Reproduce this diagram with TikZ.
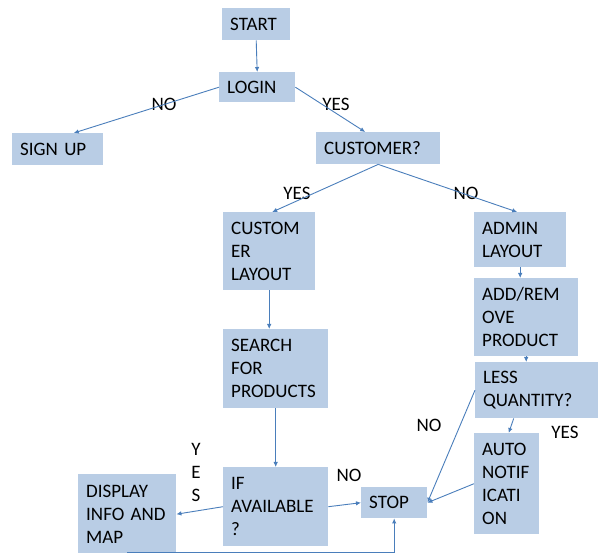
\documentclass[tikz,border=0pt]{standalone}
\usepackage{fontspec}
\setmainfont{Carlito}
\usepackage{tikz}
\usetikzlibrary{arrows.meta}
\definecolor{fcFill}{HTML}{B9CDE5}
\definecolor{fcLine}{HTML}{4A7EBB}

\begin{document}
\begin{tikzpicture}[x=1pt,y=-1pt,font=\fontsize{19}{23}\selectfont,
  b/.style={fill=fcFill,anchor=north west,align=left,inner xsep=8pt,inner ysep=0pt},
  a/.style={-{Latex[length=5pt,width=4.5pt]},fcLine,line width=0.9pt}]
\useasboundingbox (0,0) rectangle (598,553);
\node[b,text width=52pt,minimum height=32pt] (start) at (222,8) {START};
\node[b,text width=60pt,minimum height=30pt] (login) at (219,72) {LOGIN};
\node[b,text width=75pt,minimum height=32pt] (signup) at (12,133) {SIGN UP};
\node[b,text width=108pt,minimum height=32pt] (cust) at (316,132) {CUSTOMER?};
\node[b,text width=76pt,minimum height=78pt] (custlay) at (223,212) {CUSTOM\\ER\\LAYOUT};
\node[b,text width=76pt,minimum height=55pt] (admin) at (474,212) {ADMIN\\LAYOUT};
\node[b,text width=88pt,minimum height=78pt] (addrem) at (474,278) {ADD/REM\\OVE\\PRODUCT};
\node[b,text width=107pt,minimum height=56pt] (less) at (475,362) {LESS\\QUANTITY?};
\node[b,text width=49pt,minimum height=101pt] (auto) at (474,433) {AUTO\\NOTIF\\ICATI\\ON};
\node[b,text width=89pt,minimum height=79pt] (search) at (223,329) {SEARCH\\FOR\\PRODUCTS};
\node[b,text width=89pt,minimum height=79pt] (ifav) at (223,467) {IF\\AVAILABLE\\?};
\node[b,text width=50pt,minimum height=31pt] (stop) at (361,487) {STOP};
\node[b,text width=82pt,minimum height=80pt] (disp) at (78,474) {DISPLAY\\INFO AND\\MAP};
% answers
\node (nologin) at (164,104) {NO};
\node (yeslogin) at (336,104) {YES};
\node (yescust) at (297,193) {YES};
\node (nocust) at (466,193) {NO};
\node[align=center] (yesav) at (196,472) {Y\\E\\S};
\node (noav) at (349,475) {NO};
\node (noless) at (429,425) {NO};
\node (yesless) at (565,432) {YES};
% connectors
\draw[a] (start.south) -- (login.north);
\draw[a] (login.west) -- ([xshift=16pt]signup.north);
\draw[a] (login.east) -- ([xshift=-13pt]cust.north);
\draw[a] (cust.south) -- ([xshift=3pt]custlay.north);
\draw[a] (cust.south) -- ([xshift=-3pt]admin.north);
\draw[a] (admin.south) -- (admin.south |- addrem.north);
\draw[a] (addrem.south) -- (addrem.south |- less.north);
\draw[a] ([xshift=-23pt]less.south) -- ([xshift=2pt]auto.north);
\draw[a] (less.west) -- (stop.east);
\draw[a] (auto.west) -- (stop.east);
\draw[a] (custlay.south) -- (custlay.south |- search.north);
\draw[a] (search.south) -- (ifav.north);
\draw[a] (ifav.west) -- (disp.east);
\draw[a] (ifav.east) -- (stop.west);
\draw[a] ([yshift=1.5pt]disp.south) -| (stop.south);
\end{tikzpicture}
\end{document}
